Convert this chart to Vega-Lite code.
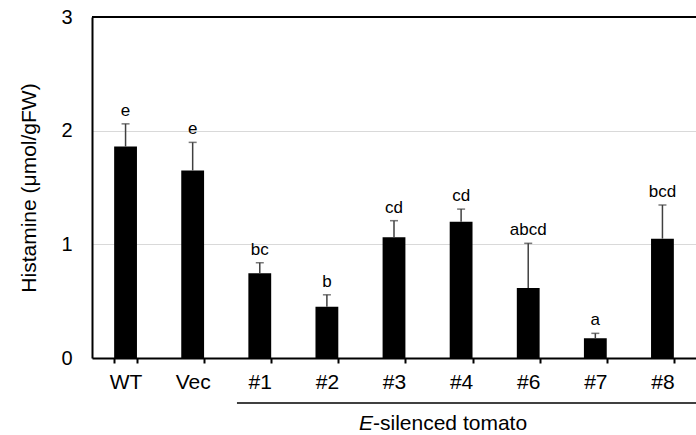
{
  "$schema": "https://vega.github.io/schema/vega-lite/v6.json",
  "width": 604,
  "height": 341,
  "autosize": {"type": "none"},
  "padding": {"left": 92, "top": 17, "right": 0, "bottom": 77},
  "background": "white",
  "config": {
    "view": {"stroke": null},
    "font": "Liberation Sans",
    "text": {"font": "Liberation Sans", "color": "black"}
  },
  "datasets": {
    "histamine": [
      {"line": "WT", "mean": 1.86, "upper": 2.06, "sig": "e"},
      {"line": "Vec", "mean": 1.65, "upper": 1.897, "sig": "e"},
      {"line": "#1", "mean": 0.745, "upper": 0.838, "sig": "bc"},
      {"line": "#2", "mean": 0.451, "upper": 0.556, "sig": "b"},
      {"line": "#3", "mean": 1.062, "upper": 1.208, "sig": "cd"},
      {"line": "#4", "mean": 1.199, "upper": 1.31, "sig": "cd"},
      {"line": "#6", "mean": 0.616, "upper": 1.009, "sig": "abcd"},
      {"line": "#7", "mean": 0.173, "upper": 0.217, "sig": "a"},
      {"line": "#8", "mean": 1.05, "upper": 1.346, "sig": "bcd"}
    ]
  },
  "layer": [
    {
      "data": {"name": "histamine"},
      "mark": {"type": "bar", "color": "black"},
      "encoding": {
        "x": {
          "field": "line",
          "type": "nominal",
          "sort": null,
          "scale": {"paddingInner": 0.66, "paddingOuter": 0.33},
          "axis": {
            "title": null,
            "labelAngle": 0,
            "labelFontSize": 21,
            "labelColor": "black",
            "labelFont": "Liberation Sans",
            "labelPadding": 8,
            "domainColor": "black",
            "domainWidth": 2,
            "tickColor": "black",
            "tickWidth": 2,
            "tickSize": 5,
            "tickBand": "extent",
            "grid": false
          }
        },
        "y": {
          "field": "mean",
          "type": "quantitative",
          "scale": {"domain": [0, 3], "nice": false},
          "axis": {
            "values": [0, 1, 2, 3],
            "format": "d",
            "title": "Histamine (μmol/gFW)",
            "titleFontSize": 21,
            "titleFontWeight": "normal",
            "titleColor": "black",
            "titleFont": "Liberation Sans",
            "titlePadding": 21,
            "labelFontSize": 20,
            "labelColor": "black",
            "labelFont": "Liberation Sans",
            "labelPadding": 20,
            "ticks": false,
            "domainColor": "black",
            "domainWidth": 2,
            "gridColor": "#d9d9d9",
            "gridWidth": 1.2
          }
        }
      }
    },
    {
      "data": {"name": "histamine"},
      "mark": {"type": "rule", "color": "#404040", "strokeWidth": 1.5},
      "encoding": {
        "x": {"field": "line", "type": "nominal", "sort": null},
        "y": {"field": "mean", "type": "quantitative"},
        "y2": {"field": "upper"}
      }
    },
    {
      "data": {"name": "histamine"},
      "mark": {"type": "tick", "color": "#404040", "size": 8, "thickness": 1.5, "orient": "horizontal"},
      "encoding": {
        "x": {"field": "line", "type": "nominal", "sort": null},
        "y": {"field": "upper", "type": "quantitative"}
      }
    },
    {
      "data": {"name": "histamine"},
      "mark": {"type": "text", "fontSize": 17, "baseline": "alphabetic", "dy": -8, "color": "black"},
      "encoding": {
        "x": {"field": "line", "type": "nominal", "sort": null},
        "y": {"field": "upper", "type": "quantitative"},
        "text": {"field": "sig"}
      }
    },
    {
      "data": {"values": [{}]},
      "mark": {"type": "rule", "color": "black", "strokeWidth": 2},
      "encoding": {"y": {"datum": 3}}
    },
    {
      "data": {"values": [{}]},
      "mark": {"type": "rule", "color": "black", "strokeWidth": 1.3, "clip": false},
      "encoding": {
        "x": {"datum": "#1", "bandPosition": -0.5},
        "x2": {"datum": "#8", "bandPosition": 3},
        "y": {"datum": -0.396}
      }
    },
    {
      "data": {"values": [{}]},
      "mark": {"type": "text", "text": "E", "fontStyle": "italic", "fontSize": 21, "align": "right", "baseline": "alphabetic", "dx": -21, "color": "black"},
      "encoding": {
        "x": {"datum": "#3"},
        "y": {"datum": -0.633}
      }
    },
    {
      "data": {"values": [{}]},
      "mark": {"type": "text", "text": "-silenced tomato", "fontSize": 21, "align": "left", "baseline": "alphabetic", "dx": -21, "color": "black"},
      "encoding": {
        "x": {"datum": "#3"},
        "y": {"datum": -0.633}
      }
    }
  ]
}
